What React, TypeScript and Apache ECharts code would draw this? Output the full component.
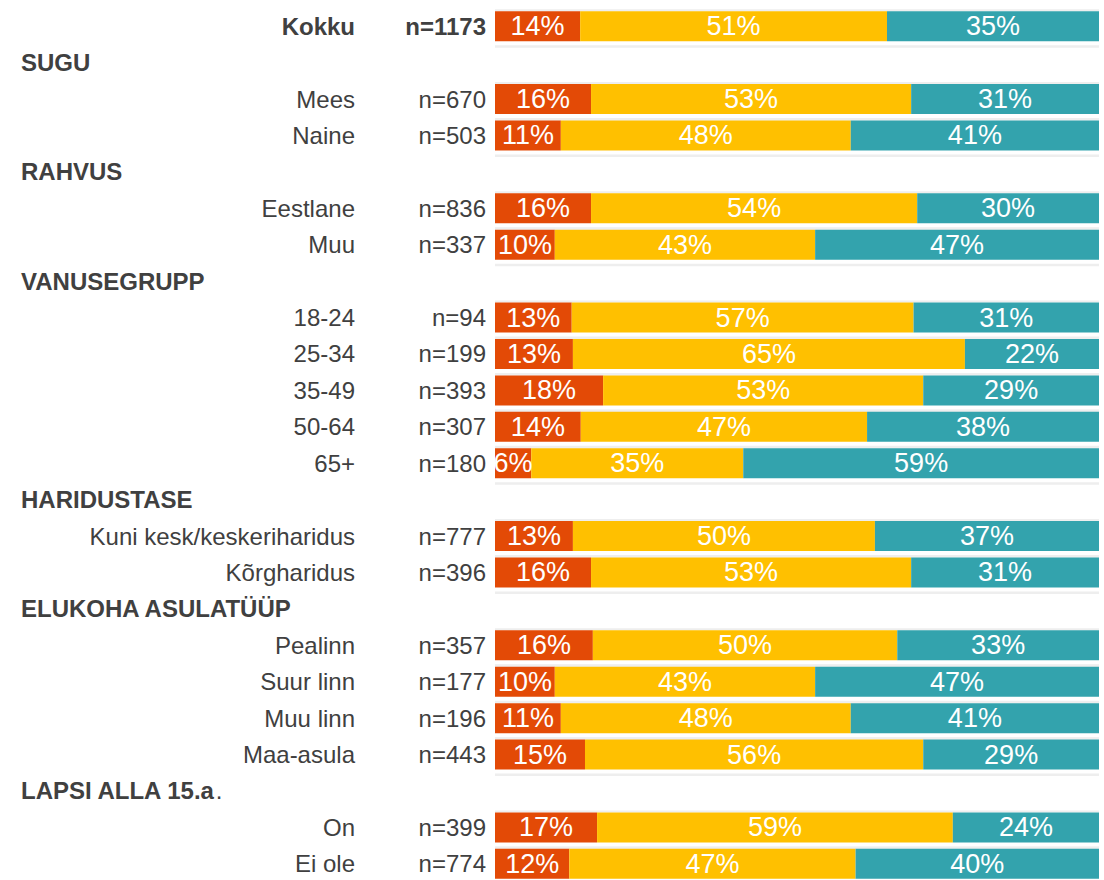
import React, { useEffect, useRef } from "react";
import * as echarts from "echarts";

const rowLabels = [
  "Kokku", "SUGU", "Mees", "Naine", "RAHVUS", "Eestlane", "Muu",
  "VANUSEGRUPP", "18-24", "25-34", "35-49", "50-64", "65+",
  "HARIDUSTASE", "Kuni kesk/keskeriharidus", "Kõrgharidus",
  "ELUKOHA ASULATÜÜP", "Pealinn", "Suur linn", "Muu linn", "Maa-asula",
  "LAPSI ALLA 15.a.", "On", "Ei ole",
];
const headerRows = [1, 4, 7, 13, 16, 21];
const nValues = [
  1173, null, 670, 503, null, 836, 337, null, 94, 199, 393, 307, 180,
  null, 777, 396, null, 357, 177, 196, 443, null, 399, 774,
];
const redValues = [
  14.1, null, 15.9, 10.9, null, 15.9, 9.9, null, 12.7, 12.9, 17.9, 14.2, 6.0,
  null, 12.9, 15.9, null, 16.2, 9.9, 10.9, 14.9, null, 16.9, 12.3,
];
const yellowValues = [
  50.8, null, 53.0, 48.0, null, 54.0, 43.1, null, 56.6, 64.9, 53.0, 47.4, 35.1,
  null, 50.0, 53.0, null, 50.4, 43.1, 48.0, 56.0, null, 58.9, 47.4,
];
const tealValues = [
  35.1, null, 31.1, 41.1, null, 30.1, 47.0, null, 30.7, 22.2, 29.1, 38.4, 58.9,
  null, 37.1, 31.1, null, 33.4, 47.0, 41.1, 29.1, null, 24.2, 40.3,
];

const FONT = "'Liberation Sans', Arial, sans-serif";
const TEXT = "#404040";
const COLORS = ["#E34A06", "#FFC000", "#33A3AD"];
const FS = 24;

export default function App() {
  const ref = useRef<HTMLDivElement>(null);
  useEffect(() => {
    if (!ref.current) return;
    const chart = echarts.init(ref.current, null, { renderer: "svg" });
    const toData = (arr: (number | null)[]) => arr.map((v) => (v == null ? "-" : v));
    const barLabel = {
      show: true,
      position: "inside",
      color: "#fff",
      fontSize: 27,
      fontFamily: FONT,
      formatter: (p: any) => Math.round(p.value) + "%",
    };
    const mkBar = (name: string, arr: (number | null)[], color: string) => ({
      name,
      type: "bar",
      stack: "total",
      barWidth: 30,
      data: toData(arr),
      itemStyle: { color },
      label: barLabel,
      z: 3,
    });
    const bgData = rowLabels
      .map((_, i) => i)
      .filter((i) => headerRows.indexOf(i) < 0)
      .map((i) => [0, i]);
    const baseAxis = {
      type: "category",
      position: "left",
      offset: 0,
      inverse: true,
      data: rowLabels,
      axisLine: { show: false },
      axisTick: { show: false },
      splitLine: { show: false },
    };

    chart.setOption({
      animation: false,
      grid: {
        left: 495,
        top: 8,
        width: 604,
        height: 874,
        containLabel: false,
        outerBoundsMode: "none",
      },
      xAxis: { type: "value", min: 0, max: 100, show: false },
      yAxis: [
        {
          ...baseAxis,
          axisLabel: {
            margin: 9,
            fontSize: FS,
            fontFamily: FONT,
            color: TEXT,
            formatter: (_v: string, i: number) => {
              const n = nValues[i];
              if (n == null) return "";
              return i === 0 ? "{b|n=" + n + "}" : "n=" + n;
            },
            rich: { b: { fontWeight: "bold", fontSize: FS, fontFamily: FONT, color: TEXT } },
          },
        },
        {
          ...baseAxis,
          axisLabel: {
            margin: 140,
            fontSize: FS,
            fontFamily: FONT,
            color: TEXT,
            formatter: (v: string, i: number) => {
              if (headerRows.indexOf(i) >= 0) return "";
              return i === 0 ? "{b|" + v + "}" : v;
            },
            rich: { b: { fontWeight: "bold", fontSize: FS, fontFamily: FONT, color: TEXT } },
          },
        },
        {
          ...baseAxis,
          axisLabel: {
            margin: 474,
            align: "left",
            fontSize: FS,
            fontFamily: FONT,
            fontWeight: "bold",
            color: TEXT,
            formatter: (v: string, i: number) => {
              if (headerRows.indexOf(i) < 0) return "";
              if (v.endsWith(".a.")) return "{h|" + v.slice(0, -1) + "}{r|.}";
              return "{h|" + v + "}";
            },
            rich: {
              h: { fontWeight: "bold", fontSize: FS, fontFamily: FONT, color: TEXT },
              r: { fontWeight: "normal", fontSize: FS, fontFamily: FONT, color: TEXT },
            },
          },
        },
      ],
      series: [
        {
          type: "custom",
          silent: true,
          z: 1,
          data: bgData,
          renderItem: (_params: any, api: any) => {
            const idx = api.value(1);
            const p0 = api.coord([0, idx]);
            const p1 = api.coord([100, idx]);
            const w = p1[0] - p0[0];
            const style = { fill: "#EEEEEE" };
            return {
              type: "group",
              children: [
                { type: "rect", shape: { x: p0[0], y: p0[1] - 17, width: w, height: 2 }, style },
                { type: "rect", shape: { x: p0[0], y: p0[1] + 19, width: w, height: 2.5 }, style },
              ],
            };
          },
        },
        mkBar("a", redValues, COLORS[0]),
        mkBar("b", yellowValues, COLORS[1]),
        mkBar("c", tealValues, COLORS[2]),
      ],
    });
    return () => chart.dispose();
  }, []);
  return (
    <div
      ref={ref}
      style={{ position: "absolute", left: 0, top: 0, width: 1104, height: 880 }}
    />
  );
}
